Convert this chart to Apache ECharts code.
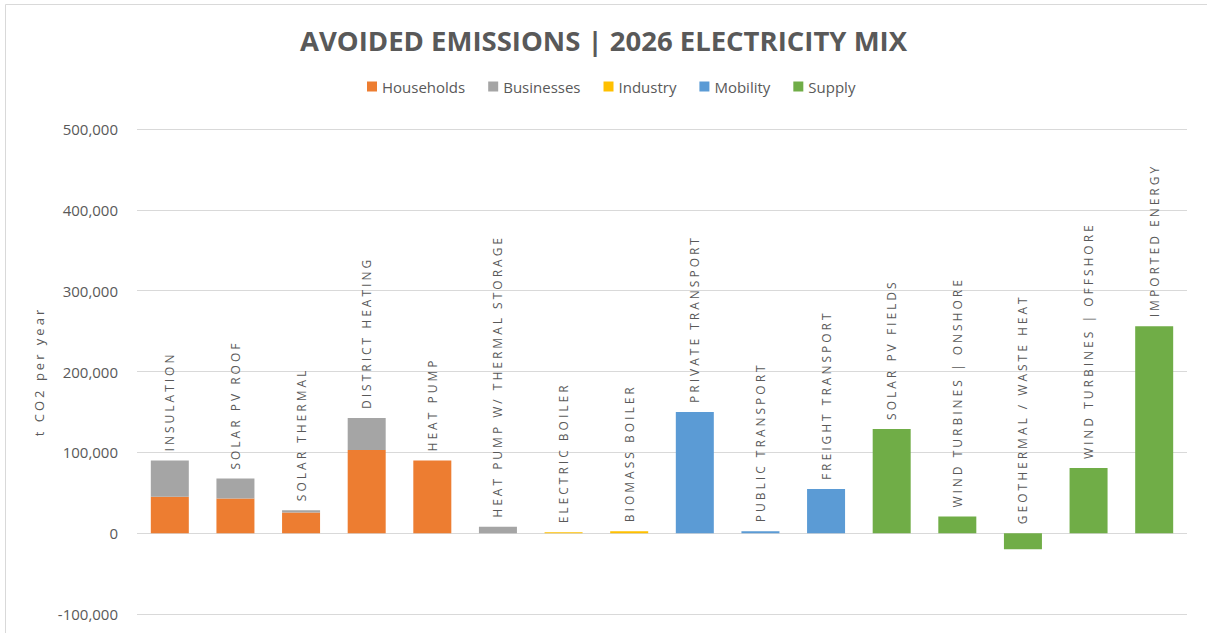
<!DOCTYPE html>
<html>
<head>
<meta charset="utf-8">
<script src="https://cdn.jsdelivr.net/npm/echarts@6/dist/echarts.min.js"></script>
<style>
  html, body { margin: 0; padding: 0; background: #fff; }
  #chart { width: 1207px; height: 633px; }
  #chart text[transform^="matrix(0,-1,1,0"], #chart text[transform*="0,-1,1,0,"] { letter-spacing: 3px; }
</style>
</head>
<body>
<div id="chart"></div>
<script>
const categories = ['INSULATION', 'SOLAR PV ROOF', 'SOLAR THERMAL', 'DISTRICT HEATING', 'HEAT PUMP',
  'HEAT PUMP W/ THERMAL STORAGE', 'ELECTRIC BOILER', 'BIOMASS BOILER', 'PRIVATE TRANSPORT',
  'PUBLIC TRANSPORT', 'FREIGHT TRANSPORT', 'SOLAR PV FIELDS', 'WIND TURBINES | ONSHORE',
  'GEOTHERMAL / WASTE HEAT', 'WIND TURBINES | OFFSHORE', 'IMPORTED ENERGY'];
const households = [45000, 43000, 25500, 103000, 90000, null, null, null, null, null, null, null, null, null, null, null];
const businesses = [45000, 24500, 3000, 39500, null, 8000, null, null, null, null, null, null, null, null, null, null];
const industry   = [null, null, null, null, null, null, 1000, 2500, null, null, null, null, null, null, null, null];
const mobility   = [null, null, null, null, null, null, null, null, 150000, 2500, 54500, null, null, null, null, null];
const supply     = [null, null, null, null, null, null, null, null, null, null, null, 129000, 20500, -20000, 80500, 256000];
const yTicks = { min: -100000, max: 500000, step: 100000 };

const seriesDefs = [
  { name: 'Households', data: households, color: '#ED7D31' },
  { name: 'Businesses', data: businesses, color: '#A5A5A5' },
  { name: 'Industry', data: industry, color: '#FFC000' },
  { name: 'Mobility', data: mobility, color: '#5B9BD5' },
  { name: 'Supply', data: supply, color: '#70AD47' }
];

// label anchor = top of positive stack (or zero)
const labelAnchor = categories.map((c, i) => {
  let pos = 0;
  seriesDefs.forEach(s => { const v = s.data[i]; if (v != null && v > 0) pos += v; });
  return pos;
});

const BAR_W = 38;
const series = seriesDefs.map(s => ({
  name: s.name,
  type: 'bar',
  stack: 'total',
  data: s.data,
  barWidth: BAR_W,
  itemStyle: { color: s.color },
  emphasis: { disabled: true }
}));
series.push({
  name: 'labels',
  type: 'bar',
  data: labelAnchor,
  barWidth: BAR_W,
  barGap: '-100%',
  silent: true,
  itemStyle: { color: 'rgba(0,0,0,0)' },
  label: {
    show: true,
    position: 'top',
    rotate: 90,
    align: 'left',
    verticalAlign: 'middle',
    distance: 9,
    fontSize: 12,
    fontFamily: 'Open Sans',
    color: '#595959',
    formatter: p => categories[p.dataIndex]
  },
  emphasis: { disabled: true }
});

const chart = echarts.init(document.getElementById('chart'), null, { renderer: 'svg' });
chart.setOption({
  animation: false,
  backgroundColor: '#fff',
  textStyle: { fontFamily: 'Open Sans' },
  graphic: [{
    type: 'rect',
    shape: { x: 5.5, y: 4.5, width: 1400, height: 800 },
    style: { fill: 'none', stroke: '#D9D9D9', lineWidth: 1 },
    silent: true
  }],
  title: {
    text: 'AVOIDED EMISSIONS | 2026 ELECTRICITY MIX',
    left: 'center',
    top: 21,
    textStyle: {
      fontFamily: 'Open Sans',
      fontWeight: 'bold',
      fontSize: 27.5,
      color: '#595959'
    }
  },
  legend: {
    data: seriesDefs.map(s => s.name),
    left: 362,
    top: 74,
    itemWidth: 10,
    itemHeight: 10,
    itemGap: 23,
    icon: 'rect',
    textStyle: { fontFamily: 'Open Sans', fontSize: 15, color: '#595959' }
  },
  grid: { left: 137, right: 20, top: 129, bottom: 19, containLabel: false },
  xAxis: {
    type: 'category',
    data: categories,
    axisLine: { show: false },
    axisTick: { show: false },
    axisLabel: { show: false },
    splitLine: { show: false }
  },
  yAxis: {
    type: 'value',
    min: yTicks.min,
    max: yTicks.max,
    interval: yTicks.step,
    name: 't CO2 per year',
    nameLocation: 'middle',
    nameGap: 92,
    nameRotate: 90,
    nameTextStyle: { fontFamily: 'Open Sans', fontSize: 13, color: '#595959' },
    axisLine: { show: false },
    axisTick: { show: false },
    axisLabel: {
      margin: 19,
      fontFamily: 'Open Sans',
      fontSize: 15,
      color: '#595959',
      formatter: v => v.toLocaleString('en-US')
    },
    splitLine: { lineStyle: { color: '#D9D9D9', width: 1 } }
  },
  series: series
});
</script>
</body>
</html>
